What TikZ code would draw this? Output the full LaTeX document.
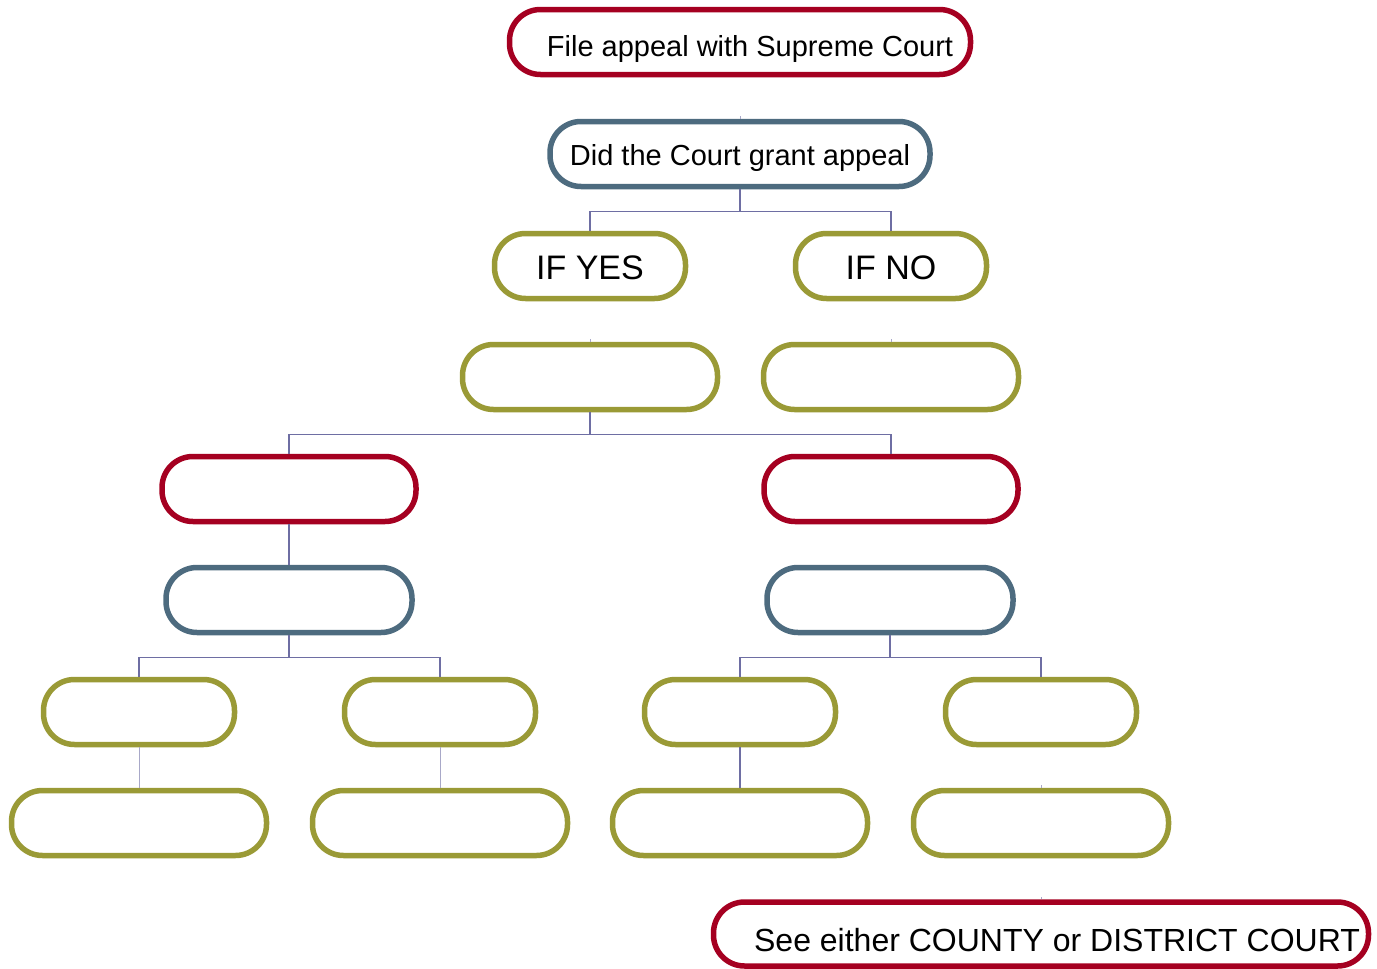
\documentclass[tikz,border=0pt]{standalone}
\usepackage{fontspec}
\setmainfont{Liberation Sans}
\begin{document}
\begin{tikzpicture}[x=1pt,y=-1pt,
  pill/.style={draw, line width=5.5pt, fill=white, rounded corners=31pt,
    minimum height=65pt, inner sep=0pt, text depth=0pt,
    font=\fontsize{29}{34}\selectfont},
  redpill/.style={pill, draw=pillred},
  bluepill/.style={pill, draw=pillblue},
  olivepill/.style={pill, draw=pillolive},
  link/.style={draw=linkc, line width=1.4pt},
  faint/.style={draw=linkc!60, line width=1pt}]
\definecolor{pillred}{HTML}{A50021}
\definecolor{pillblue}{HTML}{4D6B7F}
\definecolor{pillolive}{HTML}{9A9A36}
\definecolor{linkc}{HTML}{6E6EA3}
\useasboundingbox (0,0) rectangle (1377,969);

% level 0 / 1
\node[redpill, minimum width=461pt, text height=28pt] (file) at (740,42) {\hspace*{20pt}File appeal with Supreme Court};
\node[bluepill, minimum width=380pt, text height=23pt] (grant) at (740,154) {Did the Court grant appeal};

% yes / no
\node[olivepill, minimum width=191pt, text height=27pt, font=\fontsize{34}{40}\selectfont] (yes) at (590,266) {IF YES};
\node[olivepill, minimum width=191pt, text height=27pt, font=\fontsize{34}{40}\selectfont] (no) at (891,266) {IF NO};

% empty steps
\node[olivepill, minimum width=255pt] (yesstep) at (590,377) {};
\node[olivepill, minimum width=255pt] (nostep) at (891,377) {};

\node[redpill, minimum width=254pt] (redl) at (289,489) {};
\node[redpill, minimum width=254pt] (redr) at (891,489) {};

\node[bluepill, minimum width=246pt] (bluel) at (289,600) {};
\node[bluepill, minimum width=246pt] (bluer) at (890,600) {};

\node[olivepill, minimum width=191pt] (oa) at (139,712) {};
\node[olivepill, minimum width=191pt] (ob) at (440,712) {};
\node[olivepill, minimum width=191pt] (oc) at (740,712) {};
\node[olivepill, minimum width=191pt] (od) at (1041,712) {};

\node[olivepill, minimum width=255pt] (pa) at (139,823) {};
\node[olivepill, minimum width=255pt] (pb) at (440,823) {};
\node[olivepill, minimum width=255pt] (pc) at (740,823) {};
\node[olivepill, minimum width=255pt] (pd) at (1041,823) {};

\node[redpill, minimum width=655pt, minimum height=64pt, text height=34pt, font=\fontsize{32}{38}\selectfont] (see) at (1041,934)
  {\hspace*{32pt}See either COUNTY or DISTRICT COURT};

% short stubs
\coordinate (t1) at (740,116);
\coordinate (t2) at (590,339);
\coordinate (t3) at (891,339);
\coordinate (t4) at (1041,785);
\coordinate (t5) at (1041,897);
\draw[faint] (t1) -- (grant.north);
\draw[faint] (t2) -- (yesstep.north);
\draw[faint] (t3) -- (nostep.north);
\draw[faint] (t4) -- (pd.north);
\draw[faint] (t5) -- (see.north);

% branching connectors
\draw[link] (grant.south) -- ++(0,22) -| (yes.north);
\draw[link] (grant.south) -- ++(0,22) -| (no.north);
\draw[link] (yesstep.south) -- ++(0,22) -| (redl.north);
\draw[link] (yesstep.south) -- ++(0,22) -| (redr.north);
\draw[link] (redl.south) -- (bluel.north);
\draw[link] (bluel.south) -- ++(0,22) -| (oa.north);
\draw[link] (bluel.south) -- ++(0,22) -| (ob.north);
\draw[link] (bluer.south) -- ++(0,22) -| (oc.north);
\draw[link] (bluer.south) -- ++(0,22) -| (od.north);
\draw[faint] (oa.south) -- (pa.north);
\draw[faint] (ob.south) -- (pb.north);
\draw[link] (oc.south) -- (pc.north);
\end{tikzpicture}
\end{document}
